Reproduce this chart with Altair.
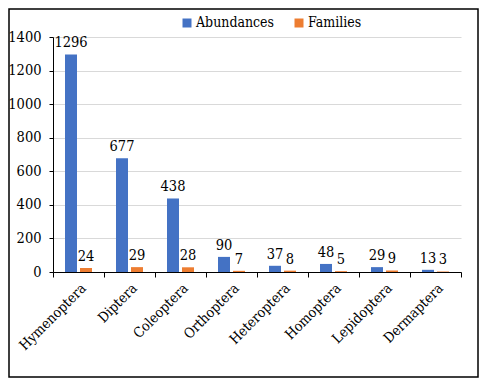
import altair as alt
import pandas as pd

orders = ["Hymenoptera", "Diptera", "Coleoptera", "Orthoptera",
          "Heteroptera", "Homoptera", "Lepidoptera", "Dermaptera"]
abundances = [1296, 677, 438, 90, 37, 48, 29, 13]
families = [24, 29, 28, 7, 8, 5, 9, 3]
series = ["Abundances", "Families"]
colors = ["#4472C4", "#ED7D31"]

rows = []
for o, a, f in zip(orders, abundances, families):
    rows.append({"order": o, "series": "Abundances", "value": a})
    rows.append({"order": o, "series": "Families", "value": f})
df = pd.DataFrame(rows)

FONT = "DejaVu Serif Condensed, DejaVu Serif"

x = alt.X("order:N", sort=orders, title=None,
          scale=alt.Scale(paddingInner=0, paddingOuter=0),
          axis=alt.Axis(labelAngle=-45, labelFontSize=14, labelFont=FONT,
                        labelColor="black", domainColor="black", tickColor="black",
                        tickSize=5, tickBand="extent", labelPadding=4, grid=False))
xo = alt.XOffset("series:N", sort=series,
                 scale=alt.Scale(paddingInner=0.2, paddingOuter=0.8))
y = alt.Y("value:Q", title=None,
          scale=alt.Scale(domain=[0, 1400]),
          axis=alt.Axis(values=[0, 200, 400, 600, 800, 1000, 1200, 1400],
                        format="d",
                        labelFontSize=14.5, labelFont=FONT, labelColor="black",
                        domainColor="black", tickColor="black", tickSize=4,
                        labelPadding=8, gridColor="#d9d9d9"))
color = alt.Color("series:N", sort=series,
                  scale=alt.Scale(domain=series, range=colors),
                  legend=alt.Legend(title=None, orient="none", direction="horizontal",
                                    legendX=127, legendY=-21, symbolType="square",
                                    symbolSize=81, symbolStrokeWidth=0,
                                    labelFont=FONT, labelFontSize=14, labelColor="black",
                                    labelOffset=2, columnPadding=17))

base = alt.Chart(df)
bars = base.mark_bar().encode(x=x, xOffset=xo, y=y, color=color)
labels = base.mark_text(baseline="bottom", dy=-4, font=FONT, fontSize=14.5,
                        color="black").encode(x=x, xOffset=xo, y=y,
                                              text=alt.Text("value:Q", format="d"))

border = alt.Chart(pd.DataFrame({"a": [0]})).mark_rect(
    fill=None, stroke="black", strokeWidth=1.5
).encode(x=alt.value(-44), x2=alt.value(425), y=alt.value(-28), y2=alt.value(340))

chart = alt.layer(bars, labels, border).properties(
    width=408, height=235,
    autosize=alt.AutoSizeParams(type="none"),
    padding={"left": 45, "top": 29, "right": 18, "bottom": 106},
).configure(font=FONT).configure_view(stroke=None)

chart.save("out.html", embed_options={"renderer": "svg", "actions": False})
